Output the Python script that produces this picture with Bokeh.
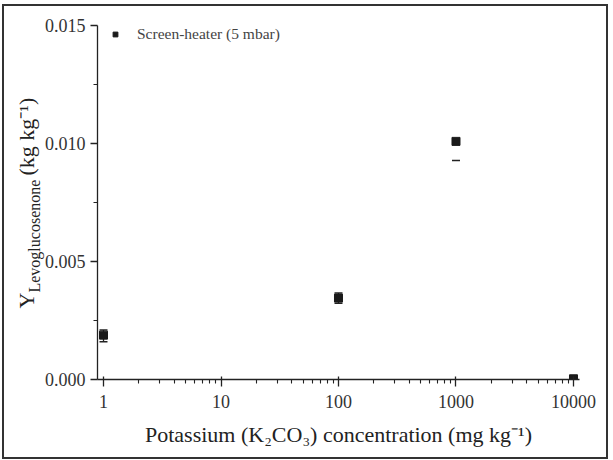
import math
from bokeh.plotting import figure
from bokeh.models import (FixedTicker, NumeralTickFormatter, Label, InlineStyleSheet,
                          Legend, LegendItem, ColumnDataSource, Range1d, CDSView, IndexFilter)
from bokeh.embed import file_html
from bokeh.resources import INLINE

# ---- data ----
conc = [1, 100, 1000, 10000]                      # K2CO3 concentration, mg/kg
yield_lg = [0.00188, 0.00345, 0.01009, 0.00003]   # levoglucosenone yield, kg/kg
err_low = [0.00160, 0.00323, 0.00928, 0.00000]
err_high = [0.00210, 0.00367, 0.01009, 0.00012]
x_ticks = [1, 10, 100, 1000, 10000]
x_tick_labels = ["1", "10", "100", "1000", "10000"]
y_ticks = [0.0, 0.005, 0.010, 0.015]
y_minor_ticks = [0.0025, 0.0075, 0.0125]
series_label = "Screen-heater (5 mbar)"
x_title = "Potassium (K\u2082CO\u2083) concentration (mg kg\u207b\u00b9)"
y_title_main = "Y"
y_title_sub = "Levoglucosenone"
y_title_unit = "(kg kg\u207b\u00b9)"

FONT = "Liberation Serif"
INK = "#222222"

src = ColumnDataSource(dict(x=conc, y=yield_lg, lo=err_low, hi=err_high))

frame_css = InlineStyleSheet(css="""
:host { position: relative; }
:host::after {
  content: ""; position: absolute; left: 2px; top: 4px; width: 606px; height: 455px;
  border: 2px solid #333333; box-sizing: border-box; pointer-events: none; z-index: 1000;
}
""")

p = figure(width=613, height=460, x_axis_type="log",
           x_range=Range1d(0.889, 11250), y_range=Range1d(0, 0.015),
           output_backend="svg", toolbar_location=None,
           min_border_left=97, min_border_right=34, min_border_top=25, min_border_bottom=81,
           stylesheets=[frame_css])
p.outline_line_color = None
p.grid.visible = False
p.background_fill_color = "white"
p.border_fill_color = "white"

# error bars (stem hidden for the 1000 mg/kg point, as in the source figure)
with_stem = [0, 1, 3]
p.segment(x0="x", y0="lo", x1="x", y1="hi", source=src, view=CDSView(filter=IndexFilter(with_stem)),
          line_color=INK, line_width=1.3)
p.scatter(x="x", y="lo", source=src, marker="dash", size=8, line_color=INK, line_width=1.5)
p.scatter(x="x", y="hi", source=src, marker="dash", size=8, line_color=INK, line_width=1.5,
          view=CDSView(filter=IndexFilter(with_stem)))
r = p.scatter(x="x", y="y", source=src, marker="square", size=8, fill_color="#1a1a1a", line_color="#1a1a1a")

# axes
xa, ya = p.xaxis[0], p.yaxis[0]
minor_x = [m * 10 ** d for d in range(4) for m in range(2, 10)]
xa.ticker = FixedTicker(ticks=x_ticks, minor_ticks=minor_x)
xa.major_label_overrides = {t: l for t, l in zip(x_ticks, x_tick_labels)}
ya.ticker = FixedTicker(ticks=y_ticks, minor_ticks=y_minor_ticks)
ya.formatter = NumeralTickFormatter(format="0.000")
for ax in (xa, ya):
    ax.axis_line_color = INK
    ax.axis_line_width = 1.3
    ax.major_tick_line_color = INK
    ax.major_tick_line_width = 1.3
    ax.minor_tick_line_color = INK
    ax.minor_tick_line_width = 1.1
    ax.major_label_text_font = FONT
    ax.major_label_text_font_size = "18px"
    ax.major_label_text_color = "#333333"
    ax.major_tick_in = 0
    ax.major_tick_out = 7
    ax.minor_tick_in = 0
    ax.minor_tick_out = 4
xa.major_tick_in = 3
xa.major_label_standoff = 8
ya.major_label_standoff = 5

xa.axis_label = x_title
xa.axis_label_text_font = FONT
xa.axis_label_text_font_size = "22px"
xa.axis_label_text_font_style = "normal"
xa.axis_label_text_color = INK
xa.axis_label_standoff = 11

# legend
legend = Legend(items=[LegendItem(label=series_label, renderers=[r])], location="top_left",
                margin=0, padding=0, glyph_width=36, glyph_height=12, label_height=12,
                label_standoff=4, label_text_font=FONT, label_text_font_size="15.5px",
                label_text_color="#444444", border_line_alpha=0, background_fill_alpha=0)
p.add_layout(legend)


# y-axis title pieces: canvas coordinates, each in a side panel with spare room (not clipped there)
def vlabel(text, x, y, size, place):
    p.add_layout(Label(x=x, y=y, x_units="canvas", y_units="canvas", text=text, angle=math.pi / 2,
                       text_font=FONT, text_font_size=f"{size}px", text_baseline="alphabetic",
                       text_align="left", text_color=INK), place)


vlabel(y_title_main, 25.5, 308, 22, "above")
vlabel(y_title_sub, 33.5, 292, 16, "left")
vlabel(y_title_unit, 25.5, 175, 22, "right")

open("out.html", "w").write(file_html(p, INLINE))
